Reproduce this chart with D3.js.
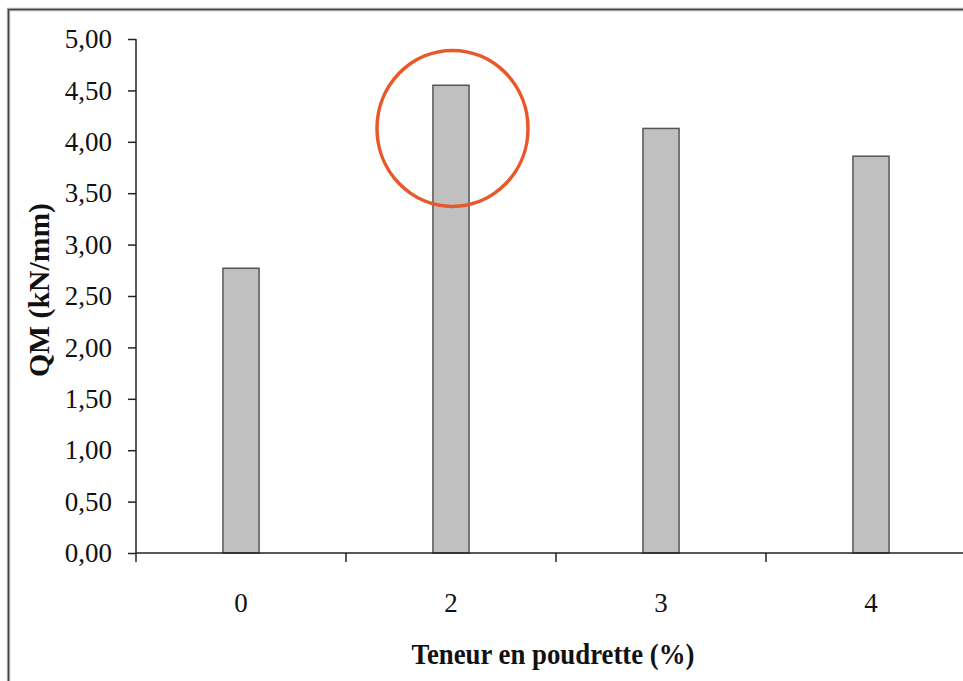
<!DOCTYPE html>
<html>
<head>
<meta charset="utf-8">
<script src="https://cdn.jsdelivr.net/npm/d3@7"></script>
<style>
  body { margin: 0; background: #fff; }
  svg { display: block; }
</style>
</head>
<body>
<svg id="chart" width="963" height="681"></svg>
<script>
// data
const categories = ["0", "2", "3", "4"];
const values = [2.77, 4.55, 4.13, 3.86];
const yTicks = [0, 0.5, 1, 1.5, 2, 2.5, 3, 3.5, 4, 4.5, 5];
// annotation circle around the "2" bar
const highlight = { cat: "2", value: 4.13 };

const FONT = "Liberation Serif";
const svg = d3.select("#chart");
const fmt = d => d.toFixed(2).replace(".", ",");

// frame (cropped on right and bottom in the original)
svg.append("path")
  .attr("d", "M8.5,700 V9.5 H990")
  .attr("fill", "none").attr("stroke", "#bbb").attr("stroke-width", 3.5);
svg.append("path")
  .attr("d", "M8.5,700 V9.5 H990")
  .attr("fill", "none").attr("stroke", "#444").attr("stroke-width", 1.5);

const x = d3.scaleBand().domain(categories).range([136, 976]).padding(0);
const y = d3.scaleLinear().domain([0, 5]).range([553, 39]);
const barW = x.bandwidth() * 0.172;

// bars
svg.append("g")
  .selectAll("rect")
  .data(values)
  .enter()
  .append("rect")
  .attr("x", (d, i) => x(categories[i]) + (x.bandwidth() - barW) / 2)
  .attr("y", d => y(d))
  .attr("width", barW)
  .attr("height", d => y(0) - y(d))
  .attr("fill", "#c0c0c0")
  .attr("stroke", "#555")
  .attr("stroke-width", 1.5);

// y axis
const yAxis = d3.axisLeft(y).tickValues(yTicks).tickFormat(fmt).tickSize(8).tickPadding(16);
const gy = svg.append("g").attr("transform", "translate(136,0)").call(yAxis);
gy.attr("font-family", FONT);
gy.select(".domain").attr("stroke", "#222").attr("stroke-width", 1.5).attr("d", `M0,${y(5)}V${y(0)}`);
gy.selectAll(".tick line").attr("stroke", "#222").attr("stroke-width", 1.5);
gy.selectAll(".tick text")
  .style("font-family", FONT).style("font-size", "27px").attr("fill", "#111");

// x axis: line, boundary ticks, centred labels
const gx = svg.append("g");
gx.append("line")
  .attr("x1", 136).attr("x2", 976).attr("y1", y(0)).attr("y2", y(0))
  .attr("stroke", "#222").attr("stroke-width", 1.5);
const bounds = categories.map(c => x(c)).concat([x.range()[1]]);
gx.selectAll(".bt")
  .data(bounds)
  .enter()
  .append("line")
  .attr("x1", d => d).attr("x2", d => d)
  .attr("y1", y(0)).attr("y2", y(0) + 9)
  .attr("stroke", "#222").attr("stroke-width", 1.5);
gx.selectAll(".lbl")
  .data(categories)
  .enter()
  .append("text")
  .attr("x", d => x(d) + x.bandwidth() / 2)
  .attr("y", 612)
  .attr("text-anchor", "middle")
  .attr("fill", "#111")
  .style("font-family", FONT).style("font-size", "27px")
  .text(d => d);

// axis titles
svg.append("text")
  .attr("x", 553).attr("y", 664)
  .attr("text-anchor", "middle")
  .attr("fill", "#111")
  .style("font-family", FONT).style("font-size", "30px").style("font-weight", "bold")
  .attr("textLength", 283).attr("lengthAdjust", "spacingAndGlyphs")
  .text("Teneur en poudrette (%)");

svg.append("text")
  .attr("transform", "translate(49,290) rotate(-90)")
  .attr("text-anchor", "middle")
  .attr("fill", "#111")
  .style("font-family", FONT).style("font-size", "30px").style("font-weight", "bold")
  .attr("textLength", 174).attr("lengthAdjust", "spacingAndGlyphs")
  .text("QM (kN/mm)");

// red highlight circle
svg.append("ellipse")
  .attr("cx", x(highlight.cat) + x.bandwidth() / 2 + 1.5)
  .attr("cy", y(highlight.value))
  .attr("rx", 75.5).attr("ry", 78)
  .attr("fill", "none")
  .attr("stroke", "#e8582b")
  .attr("stroke-width", 3.5);
</script>
</body>
</html>
